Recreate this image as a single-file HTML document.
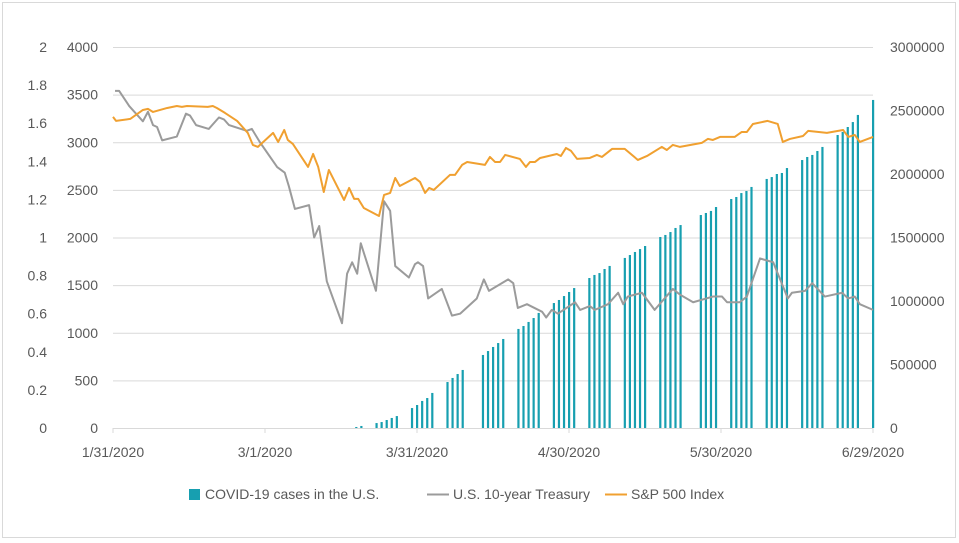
<!DOCTYPE html>
<html><head><meta charset="utf-8"><style>
html,body{margin:0;padding:0;background:#fff;}
svg{display:block;font-family:"Liberation Sans",sans-serif;}
</style></head><body>
<svg id="chart" width="959" height="543" viewBox="0 0 959 543">
<rect x="2.5" y="2.5" width="953" height="535" fill="#fff" stroke="#d9d9d9"/>
<g id="grid"></g>
<g id="bars"></g>
<g id="lines"></g>
<g id="axes"></g>
<g id="legend">
  <g>
    <rect x="189" y="489" width="11" height="11" fill="#179fb0"/>
    <text x="205" y="499" font-size="14" fill="#595959">COVID-19 cases in the U.S.</text>
  </g>
  <g>
    <line x1="427" y1="494.5" x2="449" y2="494.5" stroke="#9b9b9b" stroke-width="2"/>
    <text x="453" y="499" font-size="14" fill="#595959">U.S. 10-year Treasury</text>
  </g>
  <g>
    <line x1="605" y1="494.5" x2="627" y2="494.5" stroke="#f0a030" stroke-width="2"/>
    <text x="631" y="499" font-size="14" fill="#595959">S&amp;P 500 Index</text>
  </g>
</g>
</svg>
<script>
// Days since 1/31/2020
const xTickDays = [0, 30, 60, 90, 120, 150];
const xTickLabels = ["1/31/2020", "3/1/2020", "3/31/2020", "4/30/2020", "5/30/2020", "6/29/2020"];
const treasuryTicks = [0, 0.2, 0.4, 0.6, 0.8, 1, 1.2, 1.4, 1.6, 1.8, 2];
const spxTicks = [0, 500, 1000, 1500, 2000, 2500, 3000, 3500, 4000];
const casesTicks = [0, 500000, 1000000, 1500000, 2000000, 2500000, 3000000];

const spxDays = [0,0.6,3.4,5.9,6.9,7.9,10.7,12.6,13.6,14.6,18.7,19.7,20.5,22.1,24.5,26.6,27.6,28.6,31.6,32.6,33.8,34.5,35.5,38.5,39.5,40.5,41.6,42.6,45.6,46.6,47.6,48.4,49.5,52.5,53.5,54.7,55.7,56.6,59.6,60.6,61.6,62.4,63.3,66.5,67.5,68.9,69.9,73.4,74.4,75.4,76.4,77.4,80.3,81.5,82.3,83.3,84.3,87.6,88.4,89.4,90.4,91.6,94.1,95.5,96.5,98.5,101,103.6,105.4,108.3,109.3,110.5,111.9,116.2,117.4,118.4,119.8,122.7,124.1,125.1,126.3,129.2,131.2,132.2,133.6,136.2,137.2,140.9,144.1,145.1,146.4,147.4,150];
const spxValues = [3266,3224,3245,3339,3350,3318,3360,3381,3371,3381,3371,3381,3360,3308,3224,3098,2972,2951,3098,3003,3129,3024,2982,2741,2877,2741,2478,2709,2394,2520,2405,2405,2310,2226,2447,2468,2625,2541,2625,2583,2468,2520,2499,2657,2657,2762,2793,2762,2846,2793,2793,2867,2825,2741,2793,2793,2835,2877,2856,2940,2909,2825,2835,2867,2846,2930,2930,2814,2856,2951,2919,2972,2951,2993,3035,3024,3056,3056,3108,3108,3192,3224,3192,3003,3035,3066,3119,3098,3129,3056,3077,3003,3056];

const treasuryDays = [0.4,1.2,3.2,5.9,6.9,7.9,8.7,9.7,12.6,14.4,15.2,16.4,18.9,20.9,21.9,22.9,26.4,27.4,29,32.4,33.9,34.7,35.9,38.7,39.7,40.7,42.2,45.2,46.2,47.2,48.2,48.9,51.9,53.5,54.7,55.7,58.4,59.6,60.2,61.2,62.2,64.9,66.9,68.5,71.8,73.2,74.2,78,79,79.9,81.7,84.7,85.5,86.6,87.8,91.2,92.2,94.1,95.1,97.7,99.7,100.7,101.6,104.4,106.9,110.5,111.9,114.5,118.4,120.2,121.2,123.7,125.1,127.7,130.3,133.2,134,136.6,138,140.5,143.9,145.1,146.4,147.4,150];
const treasuryValues = [1.77,1.77,1.69,1.61,1.66,1.59,1.58,1.51,1.53,1.65,1.64,1.59,1.57,1.63,1.62,1.59,1.56,1.57,1.50,1.37,1.34,1.27,1.15,1.17,1.00,1.06,0.77,0.55,0.81,0.87,0.81,0.97,0.72,1.19,1.14,0.85,0.79,0.86,0.87,0.85,0.68,0.73,0.59,0.60,0.68,0.78,0.72,0.78,0.76,0.63,0.65,0.61,0.58,0.62,0.60,0.66,0.62,0.64,0.62,0.65,0.71,0.65,0.69,0.71,0.62,0.73,0.70,0.66,0.69,0.69,0.66,0.66,0.69,0.89,0.87,0.68,0.71,0.72,0.76,0.69,0.71,0.68,0.69,0.65,0.62];

const caseDays = [48,49,52,53,54,55,56,59,60,61,62,63,66,67,68,69,73,74,75,76,77,80,81,82,83,84,87,88,89,90,91,94,95,96,97,98,101,102,103,104,105,108,109,110,111,112,116,117,118,119,122,123,124,125,126,129,130,131,132,133,136,137,138,139,140,143,144,145,146,147,150];
const caseValues = [8000,16000,39000,47000,63000,79000,94000,157000,181000,213000,236000,276000,362000,394000,425000,457000,575000,606000,638000,669000,701000,780000,803000,835000,866000,906000,984000,1008000,1039000,1071000,1102000,1181000,1205000,1220000,1252000,1276000,1339000,1362000,1386000,1409000,1433000,1504000,1520000,1543000,1575000,1598000,1677000,1693000,1709000,1740000,1803000,1819000,1850000,1866000,1898000,1961000,1976000,2000000,2008000,2047000,2110000,2134000,2150000,2181000,2213000,2307000,2331000,2370000,2409000,2465000,2583000];

const NS = "http://www.w3.org/2000/svg";
const X0 = 113, X1 = 873, Y0 = 428, Y1 = 47;
const xS = d => X0 + d / 150 * (X1 - X0);
const yT = v => Y0 - v / 2 * (Y0 - Y1);
const yS = v => Y0 - v / 4000 * (Y0 - Y1);
const yC = v => Y0 - v / 3000000 * (Y0 - Y1);
function mk(tag, attrs, parent, txt) {
  const el = document.createElementNS(NS, tag);
  for (const k in attrs) el.setAttribute(k, attrs[k]);
  if (txt !== undefined) el.textContent = txt;
  parent.appendChild(el);
  return el;
}
const grid = document.getElementById('grid'), axes = document.getElementById('axes');
const bars = document.getElementById('bars'), lines = document.getElementById('lines');

spxTicks.forEach(v => {
  if (v === 0) return;
  const g = mk('line', {x1: X0, x2: X1, y1: yS(v) + 0.5, y2: yS(v) + 0.5, stroke: '#d9d9d9', 'stroke-width': 1}, grid);
  
  
});
treasuryTicks.forEach(v => {
  const t = mk('text', {x: 47, y: yT(v) + 5, 'text-anchor': 'end', 'font-size': 14, fill: '#595959'}, axes, String(v));
  
  
});
spxTicks.forEach(v => {
  const t = mk('text', {x: 98, y: yS(v) + 5, 'text-anchor': 'end', 'font-size': 14, fill: '#595959'}, axes, String(v));
  
  
});
casesTicks.forEach(v => {
  const t = mk('text', {x: 890, y: yC(v) + 5, 'text-anchor': 'start', 'font-size': 14, fill: '#595959'}, axes, String(v));
  
  
});
xTickDays.forEach((d, i) => {
  const tk = mk('line', {x1: xS(d), x2: xS(d), y1: Y0, y2: Y0 + 5, stroke: '#d9d9d9'}, axes);
  
  
  const t = mk('text', {x: xS(d), y: 457, 'text-anchor': 'middle', 'font-size': 14, fill: '#595959'}, axes, xTickLabels[i]);
  
  
});

caseDays.forEach((d, i) => {
  const y = yC(caseValues[i]);
  const b = mk('rect', {x: xS(d) - 1, y: y, width: 2.2, height: Y0 - y, fill: '#179fb0'}, bars);
  
  
});
const axisLine = mk('line', {x1: X0, x2: X1, y1: Y0 + 0.5, y2: Y0 + 0.5, stroke: '#d9d9d9'}, axes);



const tp = mk('polyline', {points: treasuryDays.map((d, i) => xS(d) + ',' + yT(treasuryValues[i])).join(' '), fill: 'none', stroke: '#9b9b9b', 'stroke-width': 2, 'stroke-linejoin': 'round'}, lines);


const sp = mk('polyline', {points: spxDays.map((d, i) => xS(d) + ',' + yS(spxValues[i])).join(' '), fill: 'none', stroke: '#f0a030', 'stroke-width': 2, 'stroke-linejoin': 'round'}, lines);


</script>
</body></html>
